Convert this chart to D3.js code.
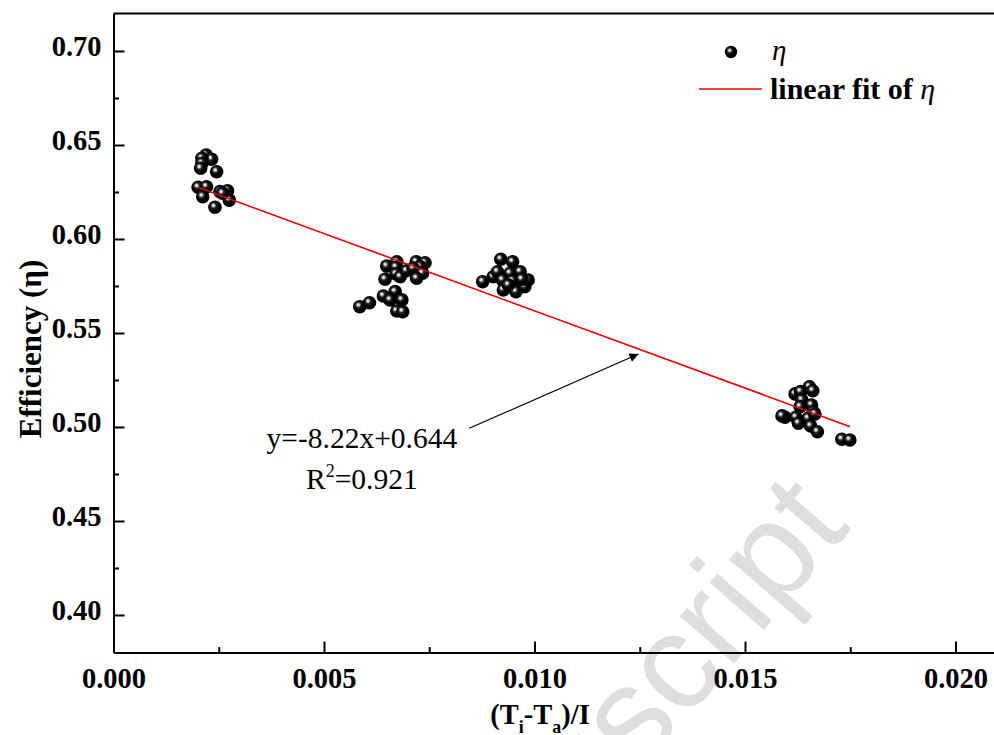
<!DOCTYPE html>
<html>
<head>
<meta charset="utf-8">
<script src="https://cdn.jsdelivr.net/npm/d3@7"></script>
<style>
  html, body { margin: 0; padding: 0; background: #fff; }
  svg { display: block; }
</style>
</head>
<body>
<svg id="chart" width="994" height="735"></svg>
<script>
// Measured collector efficiency against reduced temperature (Ti-Ta)/I
const reducedTemp = [
  0.00220, 0.00233, 0.00210, 0.00210, 0.00207, 0.00245, 0.00201, 0.00221, 0.00212, 0.00253, 0.00271, 0.00275, 0.00241, 0.00259,
  0.00649, 0.00673, 0.00671, 0.00645, 0.00671, 0.00681, 0.00696, 0.00719, 0.00740, 0.00728, 0.00712, 0.00734, 0.00720,
  0.00585, 0.00608, 0.00641, 0.00669, 0.00657, 0.00685, 0.00673, 0.00687,
  0.00920, 0.00948, 0.00877, 0.00902, 0.00912, 0.00924, 0.00942, 0.00966, 0.00948, 0.00926, 0.00956, 0.00977, 0.00985, 0.00970, 0.00938,
  0.01653, 0.01661, 0.01619, 0.01632, 0.01635, 0.01658, 0.01631, 0.01662, 0.01595, 0.01621, 0.01627, 0.01650, 0.01666, 0.01656, 0.01672, 0.01730, 0.01749, 0.01588
];
const efficiency = [
  0.6447, 0.6424, 0.6429, 0.6403, 0.6376, 0.6358, 0.6275, 0.6278, 0.6225, 0.6252, 0.6257, 0.6207, 0.6169, 0.6243,
  0.5856, 0.5879, 0.5850, 0.5786, 0.5814, 0.5799, 0.5831, 0.5879, 0.5874, 0.5853, 0.5844, 0.5818, 0.5791,
  0.5640, 0.5661, 0.5697, 0.5720, 0.5676, 0.5676, 0.5617, 0.5613,
  0.5892, 0.5879, 0.5773, 0.5799, 0.5826, 0.5782, 0.5818, 0.5826, 0.5778, 0.5729, 0.5720, 0.5746, 0.5782, 0.5786, 0.5755,
  0.5214, 0.5193, 0.5176, 0.5188, 0.5144, 0.5117, 0.5108, 0.5081, 0.5052, 0.5052, 0.5020, 0.5046, 0.5069, 0.5005, 0.4975, 0.4935, 0.4931, 0.5059
];

// Linear fit reported for the data
const fitSlope = -8.22;
const fitIntercept = 0.644;
const fitLabel = "y=-8.22x+0.644";
const fitR2 = "0.921";

// Axis ticks
const xMajorTicks = [0.000, 0.005, 0.010, 0.015, 0.020];
const xMinorTicks = [0.0025, 0.0075, 0.0125, 0.0175];
const yMajorTicks = [0.40, 0.45, 0.50, 0.55, 0.60, 0.65, 0.70];
const yMinorTicks = [0.425, 0.475, 0.525, 0.575, 0.625, 0.675];

// Annotation arrow (data units): from the equation towards the fit line
const arrowFrom = [0.00845, 0.4993];
const arrowTo = [0.01247, 0.5388];
const eqPos = [0.0059, 0.4888];
const r2Pos = [0.0059, 0.4670];

const svg = d3.select("#chart");
const serif = "'Liberation Serif', 'Times New Roman', serif";

const x = d3.scaleLinear().domain([0, 0.021]).range([113.5, 997.6]);
const y = d3.scaleLinear().domain([0.38, 0.72]).range([652.6, 13.4]);

const defs = svg.append("defs");
const grad = defs.append("radialGradient")
  .attr("id", "ball").attr("cx", "42%").attr("cy", "40%").attr("r", "58%")
  .attr("fx", "38%").attr("fy", "36%");
grad.append("stop").attr("offset", "0%").attr("stop-color", "#ffffff");
grad.append("stop").attr("offset", "14%").attr("stop-color", "#d0d0d0");
grad.append("stop").attr("offset", "34%").attr("stop-color", "#2a2a2a");
grad.append("stop").attr("offset", "60%").attr("stop-color", "#000000");
grad.append("stop").attr("offset", "100%").attr("stop-color", "#000000");

defs.append("marker")
  .attr("id", "arrowhead").attr("viewBox", "0 0 10 10")
  .attr("refX", 10).attr("refY", 5)
  .attr("markerWidth", 18).attr("markerHeight", 9)
  .attr("markerUnits", "userSpaceOnUse")
  .attr("orient", "auto")
  .append("path").attr("d", "M0,0 L10,5 L0,10 Z").attr("fill", "#000");

// Watermark behind the plot
svg.append("text")
  .attr("transform", "translate(852,528) rotate(-49)")
  .attr("text-anchor", "end")
  .attr("font-family", "'Liberation Sans', Arial, sans-serif")
  .attr("font-size", 136)
  .attr("fill", "#dedede")
  .text("Accepted Manuscript");

// Axes: major ticks with labels, minor ticks without, all pointing inward
function styleAxis(g) {
  g.selectAll(".domain").attr("stroke", "#000").attr("stroke-width", 2);
  g.selectAll(".tick line").attr("stroke", "#000").attr("stroke-width", 2);
  g.selectAll(".tick text")
    .attr("font-family", serif).attr("font-weight", "bold")
    .attr("font-size", 28.5).attr("fill", "#000");
}

const xAxisMajor = svg.append("g")
  .attr("transform", `translate(0,${y.range()[0]})`)
  .call(d3.axisBottom(x).tickValues(xMajorTicks).tickFormat(d3.format(".3f"))
    .tickSize(-11).tickSizeOuter(0).tickPadding(15.5));
styleAxis(xAxisMajor);

const xAxisMinor = svg.append("g")
  .attr("transform", `translate(0,${y.range()[0]})`)
  .call(d3.axisBottom(x).tickValues(xMinorTicks).tickFormat("")
    .tickSize(-5.5).tickSizeOuter(0));
styleAxis(xAxisMinor);

const yAxisMajor = svg.append("g")
  .attr("transform", `translate(${x.range()[0]},0)`)
  .call(d3.axisLeft(y).tickValues(yMajorTicks).tickFormat(d3.format(".2f"))
    .tickSize(-11).tickSizeOuter(0).tickPadding(12));
styleAxis(yAxisMajor);
yAxisMajor.selectAll(".tick text").attr("dy", "0.15em");

const yAxisMinor = svg.append("g")
  .attr("transform", `translate(${x.range()[0]},0)`)
  .call(d3.axisLeft(y).tickValues(yMinorTicks).tickFormat("")
    .tickSize(-5.5).tickSizeOuter(0));
styleAxis(yAxisMinor);

// Top and right frame lines
svg.append("path")
  .attr("d", `M${x.range()[0]},${y.range()[1]} H${x.range()[1]} V${y.range()[0]}`)
  .attr("fill", "none").attr("stroke", "#000").attr("stroke-width", 2);

// Axis titles
svg.append("text")
  .attr("transform", "translate(41,349) rotate(-90)")
  .attr("text-anchor", "middle")
  .attr("font-family", serif).attr("font-weight", "bold").attr("font-size", 31)
  .text("Efficiency (\u03B7)");

const xTitle = svg.append("text")
  .attr("x", 540).attr("y", 724)
  .attr("text-anchor", "middle")
  .attr("font-family", serif).attr("font-weight", "bold").attr("font-size", 28.5);
xTitle.append("tspan").text("(T");
xTitle.append("tspan").attr("font-size", 18).attr("dy", 9).text("i");
xTitle.append("tspan").attr("dy", -9).text("-T");
xTitle.append("tspan").attr("font-size", 18).attr("dy", 9).text("a");
xTitle.append("tspan").attr("dy", -9).text(")/I");

// Fit line over the measured range, under the spheres
const xExtent = d3.extent(reducedTemp);
const fitLine = () => svg.append("line")
  .attr("x1", x(xExtent[0])).attr("y1", y(fitSlope * xExtent[0] + fitIntercept))
  .attr("x2", x(xExtent[1])).attr("y2", y(fitSlope * xExtent[1] + fitIntercept))
  .attr("stroke", "#ff0000").attr("stroke-width", 1.3);
fitLine();

// Data points as shaded spheres
const points = reducedTemp.map((d, i) => ({ x: d, y: efficiency[i] }));
svg.append("g").selectAll("circle")
  .data(points)
  .join("circle")
  .attr("cx", d => x(d.x)).attr("cy", d => y(d.y))
  .attr("r", 6.8)
  .attr("fill", "url(#ball)");

// The fit line stays visible across the spheres
fitLine();

// Equation annotation and arrow
svg.append("line")
  .attr("x1", x(arrowFrom[0])).attr("y1", y(arrowFrom[1]))
  .attr("x2", x(arrowTo[0])).attr("y2", y(arrowTo[1]))
  .attr("stroke", "#000").attr("stroke-width", 1.2)
  .attr("marker-end", "url(#arrowhead)");

svg.append("text")
  .attr("x", x(eqPos[0])).attr("y", y(eqPos[1]))
  .attr("text-anchor", "middle")
  .attr("font-family", serif).attr("font-size", 29.5)
  .text(fitLabel);

const r2 = svg.append("text")
  .attr("x", x(r2Pos[0])).attr("y", y(r2Pos[1]))
  .attr("text-anchor", "middle")
  .attr("font-family", serif).attr("font-size", 29.5);
r2.append("tspan").text("R");
r2.append("tspan").attr("font-size", 18).attr("dy", -12).text("2");
r2.append("tspan").attr("dy", 12).text("=" + fitR2);

// Legend
const legend = svg.append("g");
legend.append("circle").attr("cx", 731).attr("cy", 52).attr("r", 6.2).attr("fill", "url(#ball)");
legend.append("text")
  .attr("x", 772).attr("y", 60)
  .attr("font-family", serif).attr("font-style", "italic").attr("font-size", 29)
  .text("\u03B7");
legend.append("line")
  .attr("x1", 699).attr("x2", 762).attr("y1", 89).attr("y2", 89)
  .attr("stroke", "#ff0000").attr("stroke-width", 1.3);
const legText = legend.append("text")
  .attr("x", 770).attr("y", 99)
  .attr("font-family", serif).attr("font-weight", "bold").attr("font-size", 30);
legText.append("tspan").text("linear fit of ");
legText.append("tspan").attr("font-style", "italic").attr("font-weight", "normal").text("\u03B7");
</script>
</body>
</html>
